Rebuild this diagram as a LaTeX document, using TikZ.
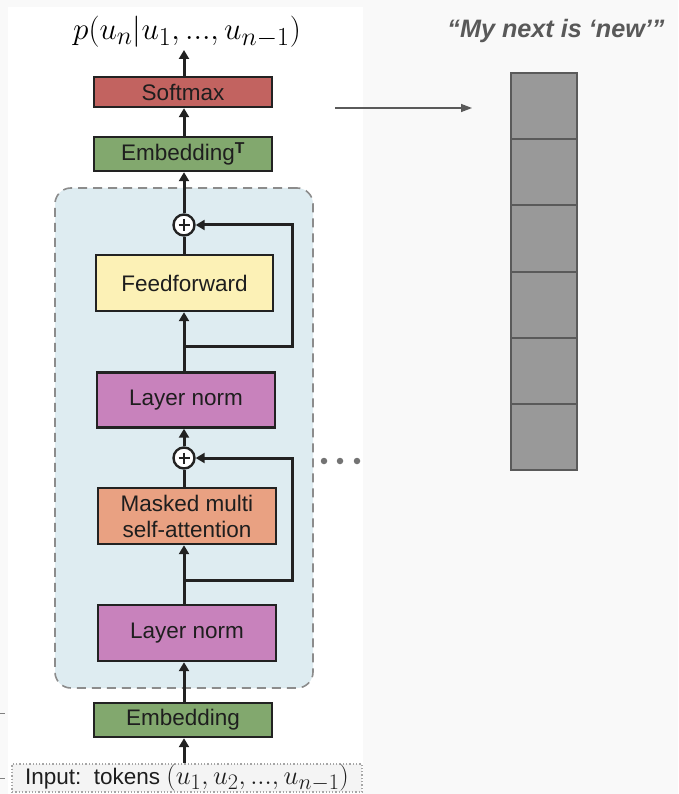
\documentclass[tikz,border=0pt]{standalone}
\usepackage{fontspec}
\setmainfont{Liberation Sans}
\usetikzlibrary{arrows.meta}

\definecolor{pagebg}{HTML}{F9F9F9}
\definecolor{boxline}{HTML}{222222}
\definecolor{txt}{HTML}{1E1E1E}
\definecolor{softred}{HTML}{C26360}
\definecolor{embgreen}{HTML}{82A86E}
\definecolor{ffyellow}{HTML}{FCF1B6}
\definecolor{normpink}{HTML}{C882BC}
\definecolor{attnorange}{HTML}{E9A182}
\definecolor{blockblue}{HTML}{DEECF1}
\definecolor{blockdash}{HTML}{8C8C8C}
\definecolor{vecfill}{HTML}{999999}
\definecolor{vecline}{HTML}{5A5A5A}
\definecolor{quotegray}{HTML}{595959}
\definecolor{inputbg}{HTML}{F4F4F4}

\newcommand{\lblfont}{\fontsize{22.5}{27}\selectfont}
\newcommand{\mathbig}{\fontsize{24.88}{28}\selectfont}

\begin{document}
\begin{tikzpicture}[x=1pt,y=-1pt,
  box/.style={draw=boxline, line width=2.4pt, minimum width=178pt, inner sep=0pt,
              font=\lblfont, text=txt, align=center},
  arr/.style={draw=boxline, line width=3pt,
              -{Triangle[length=9pt,width=10pt]}},
  link/.style={draw=boxline, line width=3pt},
  plusnode/.style={circle, draw=boxline, line width=2.4pt, fill=white,
              minimum size=21pt, inner sep=0pt,
              path picture={\draw[boxline, line width=1.8pt]
                ([xshift=-5.5pt]path picture bounding box.center) -- ++(11pt,0)
                ([yshift=5.5pt]path picture bounding box.center) -- ++(0,-11pt);}},
  cell/.style={draw=vecline, fill=vecfill, line width=2pt,
              minimum width=66pt, minimum height=66.2pt, inner sep=0pt},
  dot/.style={circle, fill=gray!90!black, minimum size=6.5pt, inner sep=0pt}]

% page background and white panel
\fill[pagebg] (0,0) rectangle (678,794);
\useasboundingbox (0,0) rectangle (678,794);
\fill[white] (8,7) rectangle (363,794);

% small marks at the left border
\draw[gray, line width=1pt] (0,713) -- (5,713);
\draw[gray, line width=1pt] (0,778) -- (5,778);

% transformer block background
\node[draw=blockdash, fill=blockblue, dashed, dash pattern=on 9pt off 6pt,
      line width=1.6pt, rounded corners=16pt,
      minimum width=258pt, minimum height=500pt] (block) at (184,438) {};

% output probability
\node[inner sep=0pt, scale=1.255] (out) at (187,32)
  {\mathbig $p(u_n|u_1,...,u_{n-1})$};

% stacked layers
\node[box, fill=softred, minimum height=30pt] (softmax) at (183,92) {Softmax};
\node[box, fill=embgreen, minimum height=34pt] (embT) at (183,154)
  {Embedding\textsuperscript{\textbf{T}}};
\node[plusnode] (plus1) at (184,225) {};
\node[box, fill=ffyellow, minimum width=177pt, minimum height=56pt] (ff) at (184.5,283) {Feedforward};
\node[box, fill=normpink, minimum height=55pt] (ln2) at (186,400) {Layer norm};
\node[plusnode] (plus2) at (184,458) {};
\node[box, fill=attnorange, minimum height=56pt] (mmsa) at (187,516)
  {Masked multi\\[-1pt]self-attention};
\node[box, fill=normpink, minimum height=56pt] (ln1) at (187,633) {Layer norm};
\node[box, fill=embgreen, minimum height=34pt] (emb) at (183,720) {Embedding};
\node[draw=gray!70, fill=inputbg, dotted, line width=1.3pt,
      minimum width=350pt, minimum height=28pt, inner sep=0pt,
      font=\lblfont, text=txt] (input) at (187,778)
  {Input:\ \ tokens \scalebox{1.07}{\mathbig$(u_1,u_2,...,u_{n-1})$}};

% branch points of the residual paths
\coordinate (br1) at (184,580);
\coordinate (br2) at (184,346);

% main data path
\draw[arr] (input.north -| 184,0) -- (emb.south -| 184,0);
\draw[arr] (emb.north -| 184,0) -- (ln1.south -| 184,0);
\draw[arr] (ln1.north -| 184,0) -- (mmsa.south -| 184,0);
\draw[link] (mmsa.north -| 184,0) -- (plus2.south);
\draw[arr] (plus2.north) -- (ln2.south -| 184,0);
\draw[arr] (ln2.north -| 184,0) -- (ff.south -| 184,0);
\draw[link] (ff.north -| 184,0) -- (plus1.south);
\draw[arr] (plus1.north) -- (embT.south -| 184,0);
\draw[arr] (embT.north -| 184,0) -- (softmax.south -| 184,0);
\draw[arr] (softmax.north -| 184,0) -- (184,50);

% residual connections
\draw[arr, line join=miter] (br1) -- ++(108,0) |- (plus2.east);
\draw[arr, line join=miter] (br2) -- ++(108,0) |- (plus1.east);

% continuation dots
\node[dot] (d1) at (324,461) {};
\node[dot] (d2) at (340,461) {};
\node[dot] (d3) at (357,461) {};

% predicted word and output vector
\node[font=\fontsize{25.2}{28}\selectfont\bfseries\itshape, text=quotegray]
  (word) at (556,31) {“My next is ‘new’”};
\node[cell] (c1) at (544,106.1) {};
\node[cell] (c2) at (544,172.3) {};
\node[cell] (c3) at (544,238.5) {};
\node[cell] (c4) at (544,304.7) {};
\node[cell] (c5) at (544,370.9) {};
\node[cell] (c6) at (544,437.1) {};
\coordinate (vecstart) at (335,108);
\draw[draw=vecline, line width=1.4pt, -{Triangle[length=11pt,width=8pt]}]
  (vecstart) -- (472,108);

\end{tikzpicture}
\end{document}
